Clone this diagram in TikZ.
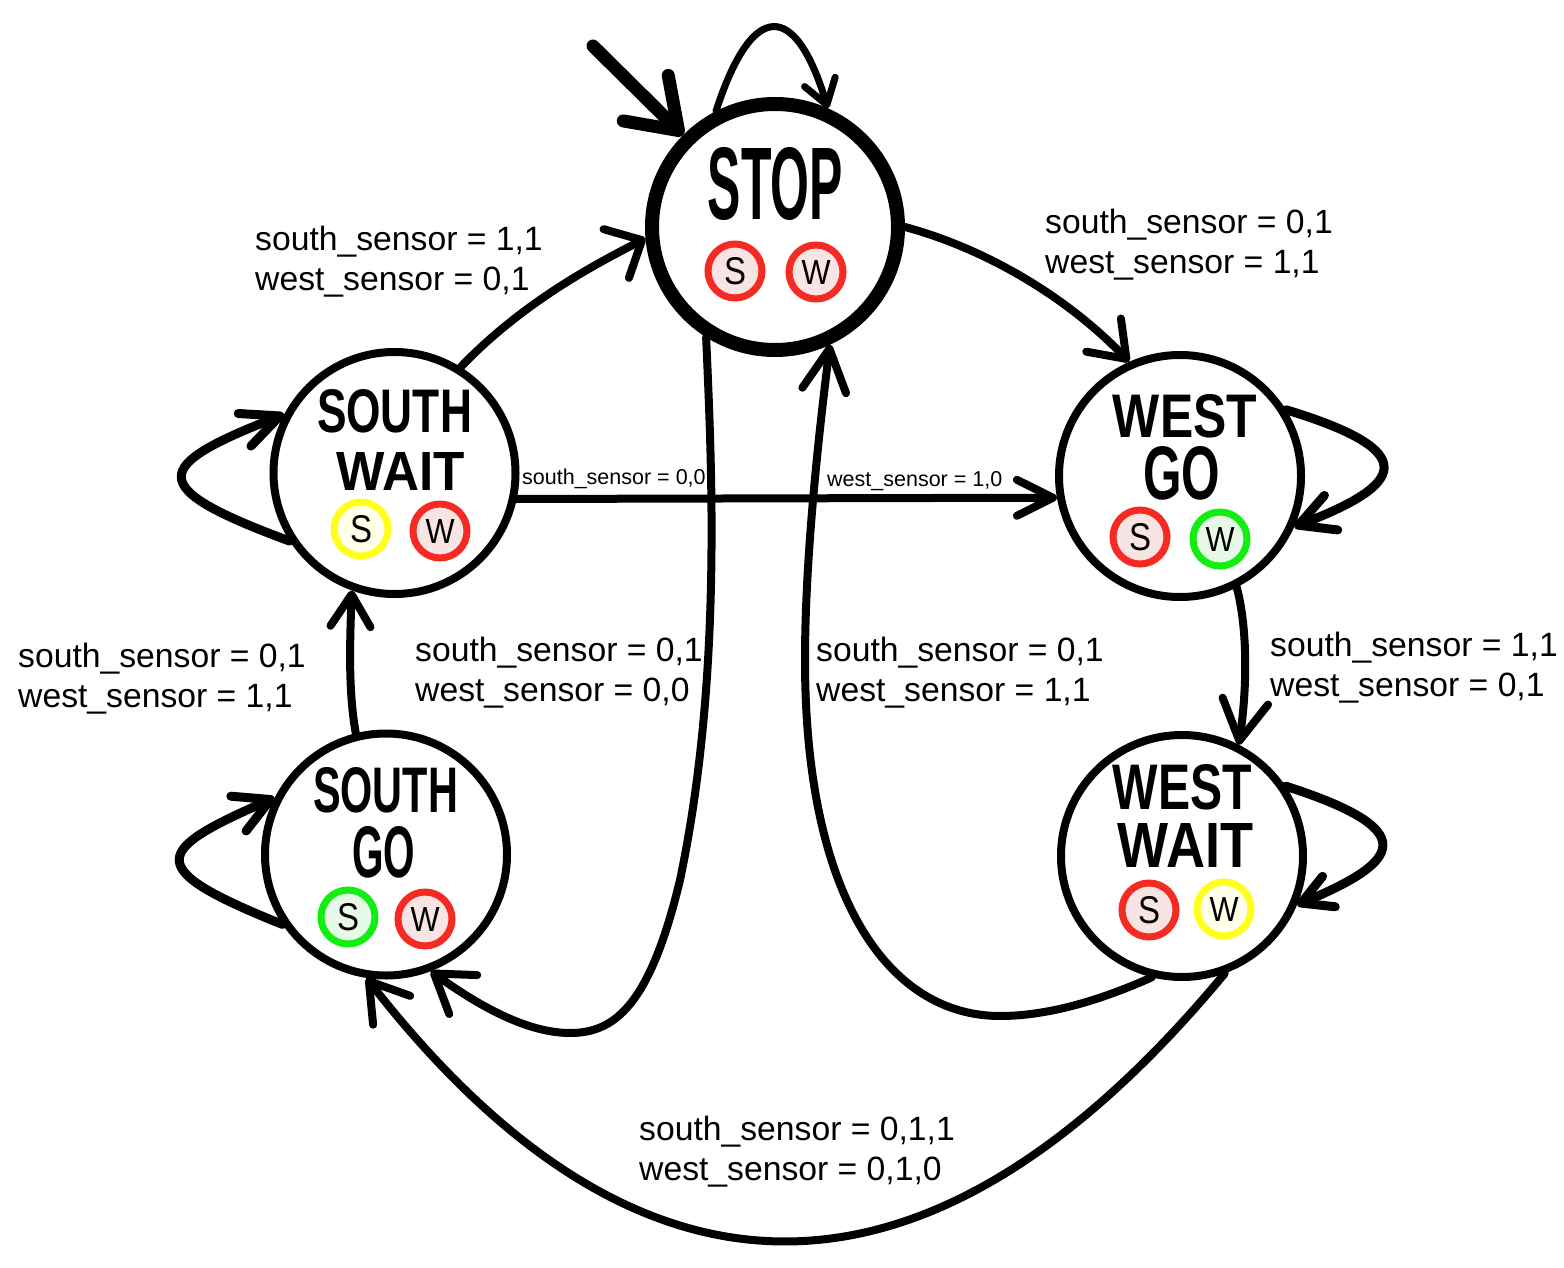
\documentclass[tikz,border=0pt]{standalone}
\usepackage{fontspec}
\setmainfont{Liberation Sans}
\usetikzlibrary{arrows.meta}
\definecolor{lred}{HTML}{F52A22}\definecolor{lredf}{HTML}{F8E4E2}
\definecolor{lyel}{HTML}{FFFF1E}\definecolor{lyelf}{HTML}{FFFFEA}
\definecolor{lgrn}{HTML}{12EE12}\definecolor{lgrnf}{HTML}{E6F8E6}
\newcommand{\hw}[3]{\resizebox{#1pt}{#2pt}{\bfseries #3}}
\newcommand{\hl}[3]{\resizebox{#1pt}{#2pt}{#3}}
\newcommand{\SL}{\hl{22}{27}{S}}
\newcommand{\WL}{\hl{29}{24}{W}}
\tikzset{
  fsm/.style={circle,draw=black,fill=white,line width=8pt,minimum size=242pt,inner sep=0pt},
  fsmstop/.style={fsm,line width=14pt,minimum size=246pt},
  title/.style={inner sep=0pt,outer sep=0pt},
  lamp/.style={circle,line width=7pt,minimum size=54pt,inner sep=0pt},
  lampr/.style={lamp,draw=lred,fill=lredf},
  lampy/.style={lamp,draw=lyel,fill=lyelf},
  lampg/.style={lamp,draw=lgrn,fill=lgrnf},
  conn/.style={draw=black,line width=8pt,line cap=round},
  hd/.style n args={2}{-{Straight Barb[length=#1pt,width=#2pt,round]}},
  lab/.style={anchor=west,align=left,inner sep=0pt,font=\fontsize{33.7}{40}\selectfont},
  slab/.style={anchor=west,inner sep=0pt,font=\fontsize{21.5}{26}\selectfont},
}
\begin{document}
\begin{tikzpicture}[x=1pt,y=-1pt]
\useasboundingbox (0,0) rectangle (1564,1268);
\fill[white] (0,0) rectangle (1564,1268);
% states
\node[fsmstop] (stop) at (775,227) {};
\node[fsm] (swait) at (394.5,473) {};
\node[fsm] (wgo) at (1180,476) {};
\node[fsm] (sgo) at (386,854.5) {};
\node[fsm] (wwait) at (1182,856) {};
% titles
\node[title] (t1) at (775.5,184) {\hw{135}{72}{STOP}};
\node[title] (t2) at (394.5,411.5) {\hw{155}{43}{SOUTH}};
\node[title] (t3) at (401,471) {\hw{128}{38}{WAIT}};
\node[title] (t4) at (1185,416.5) {\hw{144}{43}{WEST}};
\node[title] (t5) at (1181.5,473.5) {\hw{77}{53}{GO}};
\node[title] (t6) at (385.5,790.5) {\hw{145}{45}{SOUTH}};
\node[title] (t7) at (383.5,852.5) {\hw{63}{51}{GO}};
\node[title] (t8) at (1182.5,787.5) {\hw{139}{45}{WEST}};
\node[title] (t9) at (1185.5,845) {\hw{135}{44}{WAIT}};
% lamps
\node[lampr] (l1) at (735,271) {\SL};
\node[lampr] (l2) at (816,272) {\WL};
\node[lampy] (l3) at (361,529) {\SL};
\node[lampr] (l4) at (440,531) {\WL};
\node[lampr] (l5) at (1140,537) {\SL};
\node[lampg] (l6) at (1220,539) {\WL};
\node[lampg] (l7) at (348,917) {\SL};
\node[lampr] (l8) at (425,919) {\WL};
\node[lampr] (l9) at (1149,910) {\SL};
\node[lampy] (l10) at (1224,909) {\WL};
% connectors
\coordinate (init) at (593,46);
\draw[conn,line width=13pt,hd={46}{64}] (init) -- (stop.135);
\draw[conn,line width=7pt,hd={24}{32}] (stop.117.5) .. controls (752,0) and (795,0) .. (stop.66);
\draw[conn,hd={33}{48}] (stop.0) .. controls (990,250) and (1070,300) .. (wgo.114.5);
\draw[conn,hd={29}{55}] (swait.58.8) .. controls (525,300) and (600,262) .. (stop.185);
\draw[conn,line width=9pt,hd={38}{35}] (swait.213.8) .. controls (143,487) and (152,466) .. (swait.152);
\draw[conn,line width=9pt,hd={35}{38}] (sgo.214) .. controls (142,868) and (153,851) .. (sgo.153.4);
\draw[conn,line width=9pt,hd={35}{37}] (wgo.32.7) .. controls (1425,452) and (1403,485) .. (wgo.336.5);
\draw[conn,line width=9pt,hd={30}{33}] (wwait.34.6) .. controls (1422,830) and (1402,861) .. (wwait.337.3);
\draw[conn,hd={36}{36}] (swait.348.5) -- (wgo.190.1);
\draw[conn,hd={36}{48}] (stop.238) .. controls (712,470) and (722,680) .. (680,880)
  .. controls (650,1005) and (615,1033) .. (570,1033)
  .. controls (525,1033) and (475,1003) .. (sgo.291.8);
\draw[conn,hd={42}{44}] (wwait.256.5) .. controls (1090,1005) and (1040,1016) .. (1000,1016)
  .. controls (890,1016) and (805,900) .. (805,660)
  .. controls (805,560) and (818,440) .. (stop.295.5);
\draw[conn,hd={40}{46}] (wgo.297) .. controls (1248,630) and (1247,690) .. (wwait.63.6);
\draw[conn,hd={32}{40}] (sgo.104) .. controls (348,690) and (350,640) .. (swait.250.5);
\draw[conn,hd={37}{47}] (wwait.290) .. controls (930,1329) and (640,1329) .. (sgo.261);
% labels
\node[lab] (a) at (255,262) {south\_sensor = 1,1\\west\_sensor = 0,1};
\node[lab] (b) at (1045,245) {south\_sensor = 0,1\\west\_sensor = 1,1};
\node[lab] (c) at (18,679) {south\_sensor = 0,1\\west\_sensor = 1,1};
\node[lab] (d) at (415,673) {south\_sensor = 0,1\\west\_sensor = 0,0};
\node[lab] (e) at (816,673) {south\_sensor = 0,1\\west\_sensor = 1,1};
\node[lab] (f) at (1270,668) {south\_sensor = 1,1\\west\_sensor = 0,1};
\node[lab] (g) at (639,1152) {south\_sensor = 0,1,1\\west\_sensor = 0,1,0};
\node[slab] (h) at (522,479) {south\_sensor = 0,0};
\node[slab] (i) at (827,481) {west\_sensor = 1,0};
\end{tikzpicture}
\end{document}
